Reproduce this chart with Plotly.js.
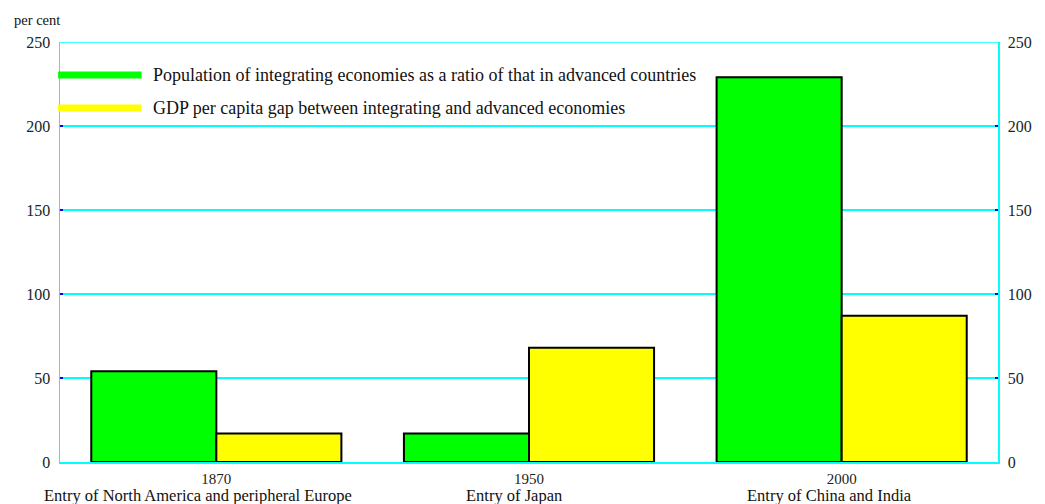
<!DOCTYPE html>
<html><head><meta charset="utf-8">
<script src="https://cdn.plot.ly/plotly-3.0.1.min.js"></script>
<style>html,body{margin:0;padding:0;background:#fff}#chart{width:1045px;height:504px}</style>
</head><body><div id="chart"></div>
<script>
const years = ["1870", "1950", "2000"];
const entryLabels = ["Entry of North America and peripheral Europe", "Entry of Japan", "Entry of China and India"];
const populationRatio = [54, 17, 229];
const gdpGap = [17, 68, 87];
const seriesNames = ["Population of integrating economies as a ratio of that in advanced countries",
                     "GDP per capita gap between integrating and advanced economies"];
const seriesColors = ["#00ff00", "#ffff00"];
const yTicks = [0, 50, 100, 150, 200, 250];

const font = "'Liberation Serif','Times New Roman',serif";

const traces = [
  {type: "bar", x: years, y: populationRatio, name: seriesNames[0], marker: {color: seriesColors[0], line: {color: "#000", width: 2}}, showlegend: false},
  {type: "bar", x: years, y: gdpGap, name: seriesNames[1], marker: {color: seriesColors[1], line: {color: "#000", width: 2}}, showlegend: false},
  {type: "scatter", x: years, y: gdpGap, yaxis: "y2", mode: "markers", marker: {opacity: 0}, hoverinfo: "skip", showlegend: false}
];

const legendY = [230.4, 210.7];
const entryShift = [-18, -15, -12];
const yMax = yTicks[yTicks.length - 1];
const shapes = [
  {type: "line", xref: "paper", yref: "y", x0: 0, x1: 1, y0: yMax, y1: yMax, layer: "below", line: {color: "#00ffff", width: 1.5}}
];
const annotations = [];
seriesNames.forEach((n, i) => {
  shapes.push({type: "line", xref: "paper", yref: "y", x0: -0.002, x1: 0.087, y0: legendY[i], y1: legendY[i], line: {color: seriesColors[i], width: 7}});
  annotations.push({xref: "paper", yref: "y", x: 0.097, y: legendY[i], text: n, showarrow: false, xanchor: "left", yanchor: "middle", font: {family: font, size: 18, color: "#111"}});
});
entryLabels.forEach((t, i) => {
  annotations.push({xref: "x", yref: "paper", x: i, y: -0.079, xshift: entryShift[i], text: t, showarrow: false, xanchor: "center", yanchor: "middle", font: {family: font, size: 16.5, color: "#111"}});
});
annotations.push({xref: "paper", yref: "paper", x: -0.051, y: 1.052, xanchor: "left", yanchor: "middle", text: "per cent", showarrow: false, font: {family: font, size: 14.5, color: "#111"}});

const yAxisCommon = {
  range: [0, yMax], tickvals: yTicks, ticks: "inside", ticklen: 3, tickcolor: "#0000ff", tickwidth: 2,
  showline: true, linecolor: "#00ffff", linewidth: 1.5, zeroline: false,
  tickfont: {family: font, size: 16, color: "#222"}, ticklabelstandoff: 5, fixedrange: true
};

const layout = {
  width: 1045, height: 504,
  margin: {l: 60, r: 47, t: 42, b: 42},
  paper_bgcolor: "#fff", plot_bgcolor: "#fff",
  barmode: "group", bargap: 0.2, bargroupgap: 0,
  xaxis: {type: "category", categoryarray: years, range: [-0.5, years.length - 0.5], tickvals: years, ticktext: years, showline: true, mirror: false, linecolor: "#00ffff", linewidth: 1.5,
          ticks: "", showgrid: false, tickfont: {family: font, size: 15, color: "#222"}, ticklabelstandoff: 2, fixedrange: true},
  yaxis: Object.assign({}, yAxisCommon, {showgrid: true, gridcolor: "#00ffff", gridwidth: 1.5}),
  yaxis2: Object.assign({}, yAxisCommon, {overlaying: "y", side: "right", showgrid: false}),
  shapes: shapes, annotations: annotations, showlegend: false
};

Plotly.newPlot("chart", traces, layout, {displayModeBar: false, staticPlot: true});
</script></body></html>
